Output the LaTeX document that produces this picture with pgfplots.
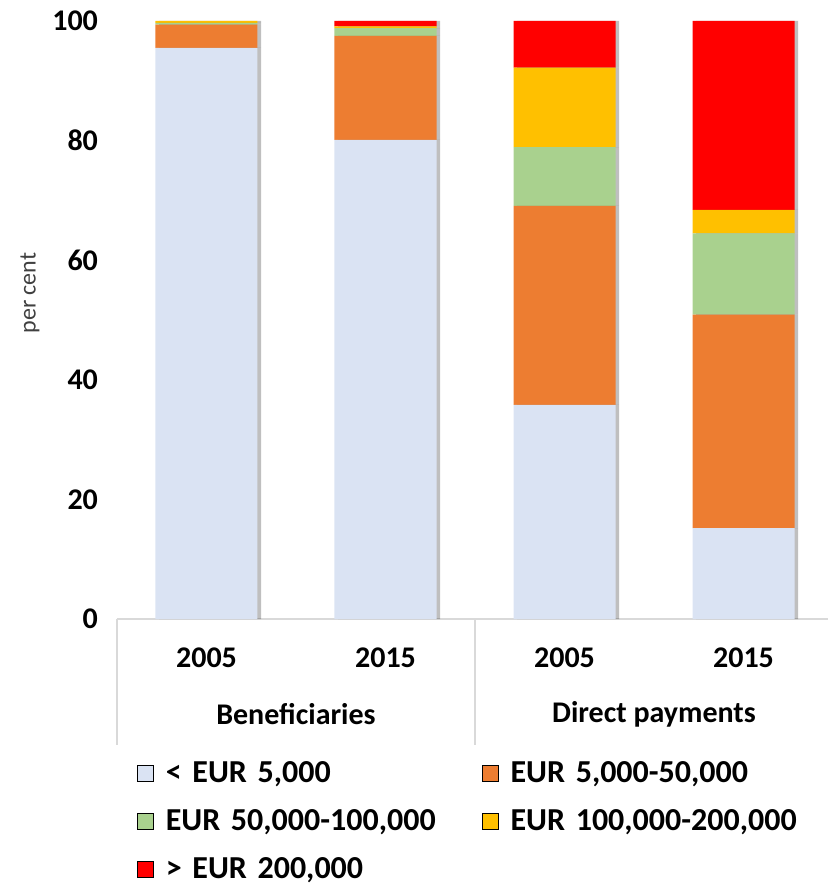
\documentclass[border=0pt]{standalone}
\usepackage{fontspec}
\setmainfont{Carlito}
\usepackage{pgfplots}
\usepackage{pgfplotstable}
\pgfplotsset{compat=1.18}
\usetikzlibrary{shadows}
\definecolor{cA}{HTML}{DAE3F3}
\definecolor{cB}{HTML}{ED7D31}
\definecolor{cC}{HTML}{A9D18E}
\definecolor{cD}{HTML}{FFC000}
\definecolor{cE}{HTML}{FF0000}
\definecolor{gridgray}{HTML}{D9D9D9}
\definecolor{labgray}{HTML}{404040}
\pgfplotstableread{
x a b c d e
0 95.5 3.9 0.3 0.3 0.0
1 80.1 17.4 1.3 0.3 0.9
2 35.8 33.3 9.8 13.3 7.8
3 15.2 35.7 13.6 3.9 31.6
}\datatable
\tikzset{barshadow/.style={drop shadow={shadow xshift=1.8pt, shadow yshift=0pt, opacity=0.25, fill=black}}}
\begin{document}
\begin{tikzpicture}
\useasboundingbox (-58.5pt,-134pt) rectangle (355pt,309.5pt);
\begin{axis}[
  at={(0,0)}, anchor=south west,
  scale only axis, width=358pt, height=299pt,
  ybar stacked, bar width=51pt,
  xmin=-0.5, xmax=3.5, ymin=0, ymax=100,
  xtick={0,1,2,3}, xticklabels={2005,2015,2005,2015},
  ytick={0,20,40,60,80,100},
  major tick length=0pt,
  axis line style={draw=none},
  clip=false,
  /pgf/number format/assume math mode=true,
  ticklabel style={font=\fontsize{15}{18}\selectfont\bfseries},
  yticklabel style={xshift=-6pt},
  xticklabel style={yshift=-11pt},
  legend columns=2,
  legend cell align=left,
  legend image code/.code={\fill[#1] (0pt,-4pt) rectangle (8pt,4pt); \path (13pt,0pt);},
  legend style={at={(0,0)}, anchor=north west, xshift=10pt, yshift=-69.5pt,
    draw=none, fill=none, inner sep=0pt, outer sep=0pt,
    font=\fontsize{16}{19}\selectfont\bfseries,
    row sep=9pt,
    nodes={inner sep=1pt, text width=157pt, align=left, text height=11pt, text depth=2pt}},
]
\addplot[fill=cA, draw=none, barshadow, forget plot] table[x=x, y=a] {\datatable};
\addplot[fill=cB, draw=none, barshadow, forget plot] table[x=x, y=b] {\datatable};
\addplot[fill=cC, draw=none, barshadow, forget plot] table[x=x, y=c] {\datatable};
\addplot[fill=cD, draw=none, barshadow, forget plot] table[x=x, y=d] {\datatable};
\addplot[fill=cE, draw=none, barshadow, forget plot] table[x=x, y=e] {\datatable};
\addlegendimage{fill=cA}\addlegendentry{< EUR 5,000}
\addlegendimage{fill=cB}\addlegendentry{EUR 5,000-50,000}
\addlegendimage{fill=cC}\addlegendentry{EUR 50,000-100,000}
\addlegendimage{fill=cD}\addlegendentry{EUR 100,000-200,000}
\addlegendimage{fill=cE}\addlegendentry{> EUR 200,000}
\draw[gridgray, line width=0.8pt] (axis cs:-0.5,0) -- (axis cs:3.5,0);
\draw[gridgray, line width=0.8pt] (axis cs:-0.5,0) -- ([yshift=-63pt]axis cs:-0.5,0);
\draw[gridgray, line width=0.8pt] (axis cs:1.5,0) -- ([yshift=-63pt]axis cs:1.5,0);
\draw[gridgray, line width=0.8pt] (axis cs:3.5,0) -- ([yshift=-63pt]axis cs:3.5,0);
\node[font=\fontsize{15}{18}\selectfont\bfseries] at ([yshift=-47.5pt]axis cs:0.5,0) {Beneficiaries};
\node[font=\fontsize{15}{18}\selectfont\bfseries] at ([yshift=-47.5pt]axis cs:2.5,0) {Direct payments};
\node[rotate=90, font=\fontsize{12}{14}\selectfont, text=labgray] at ([xshift=-43.5pt]axis cs:-0.5,54.5) {per cent};
\end{axis}
\end{tikzpicture}
\end{document}
